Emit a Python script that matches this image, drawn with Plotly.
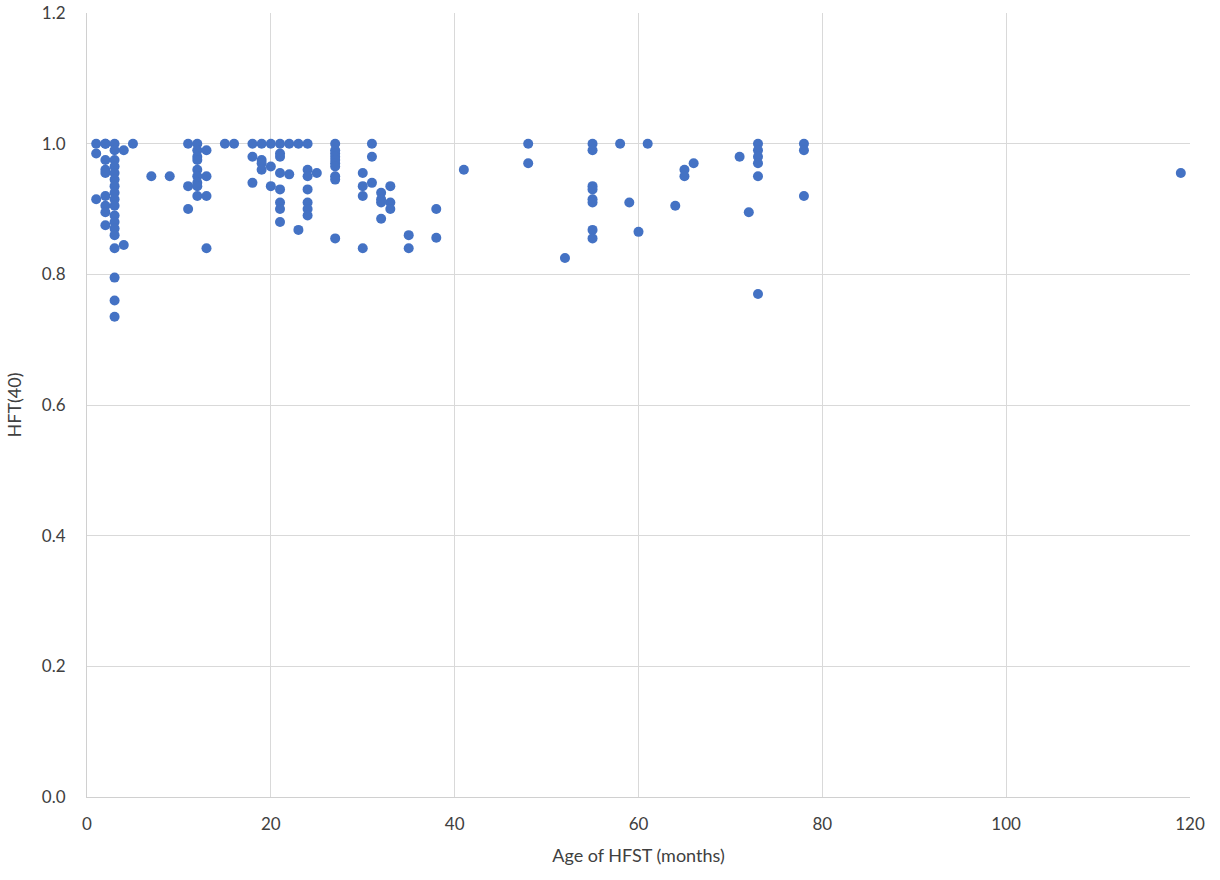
import plotly.graph_objects as go

age_months = (
    [1]*3 + [2]*9 + [3]*18 + [4]*2 + [5] + [7] + [9] + [11]*3 + [12]*9 + [13]*4 +
    [15] + [16] + [18]*3 + [19]*4 + [20]*3 + [21]*8 + [22]*2 + [23]*2 + [24]*7 +
    [25] + [27]*10 + [30]*4 + [31]*3 + [32]*4 + [33]*3 + [35]*2 + [38]*2 + [41] +
    [48]*2 + [52] + [55]*8 + [58] + [59] + [60] + [61] + [64] + [65]*2 + [66] +
    [71] + [72] + [73]*6 + [78]*3 + [119]
)
hft40 = (
    [1.0, 0.985, 0.915] +
    [1.0, 1.0, 0.975, 0.96, 0.955, 0.92, 0.905, 0.895, 0.875] +
    [1.0, 0.99, 0.975, 0.965, 0.955, 0.945, 0.935, 0.925, 0.915, 0.905, 0.89, 0.88,
     0.87, 0.86, 0.84, 0.795, 0.76, 0.735] +
    [0.99, 0.845] + [1.0] + [0.95] + [0.95] +
    [1.0, 0.935, 0.9] +
    [1.0, 0.99, 0.98, 0.975, 0.96, 0.95, 0.94, 0.935, 0.92] +
    [0.99, 0.95, 0.92, 0.84] +
    [1.0] + [1.0] +
    [1.0, 0.98, 0.94] +
    [1.0, 0.975, 0.97, 0.96] +
    [1.0, 0.965, 0.935] +
    [1.0, 0.985, 0.98, 0.955, 0.93, 0.91, 0.9, 0.88] +
    [1.0, 0.953] +
    [1.0, 0.868] +
    [1.0, 0.96, 0.95, 0.93, 0.91, 0.9, 0.89] +
    [0.955] +
    [1.0, 0.99, 0.985, 0.98, 0.975, 0.97, 0.965, 0.95, 0.945, 0.855] +
    [0.955, 0.935, 0.92, 0.84] +
    [1.0, 0.98, 0.94] +
    [0.925, 0.915, 0.91, 0.885] +
    [0.935, 0.91, 0.9] +
    [0.86, 0.84] +
    [0.9, 0.856] +
    [0.96] +
    [1.0, 0.97] +
    [0.825] +
    [1.0, 0.99, 0.935, 0.93, 0.915, 0.91, 0.868, 0.855] +
    [1.0] + [0.91] + [0.865] + [1.0] + [0.905] +
    [0.96, 0.95] + [0.97] + [0.98] + [0.895] +
    [1.0, 0.99, 0.98, 0.97, 0.95, 0.77] +
    [1.0, 0.99, 0.92] +
    [0.955]
)

x_ticks = [0, 20, 40, 60, 80, 100, 120]
y_ticks = [0.0, 0.2, 0.4, 0.6, 0.8, 1.0, 1.2]

fig = go.Figure()
fig.add_trace(go.Scatter(
    x=age_months, y=hft40, mode="markers",
    marker=dict(color="#4472C4", size=10, line=dict(width=0)),
    showlegend=False,
))

FONT = "Lato, Open Sans, sans-serif"
tick_font = dict(family=FONT, size=17, color="#404040")
title_font = dict(family=FONT, size=18, color="#404040")

fig.update_layout(
    width=1220, height=880,
    margin=dict(l=87, r=30, t=13, b=83),
    paper_bgcolor="white", plot_bgcolor="white",
    font=tick_font,
    xaxis=dict(
        range=[0, 120], tickvals=x_ticks, ticktext=[str(v) for v in x_ticks],
        showgrid=True, gridcolor="#d9d9d9", gridwidth=1,
        zeroline=False, showline=True, linecolor="#d0d0d0", linewidth=1,
        ticks="", ticklabelstandoff=12, automargin=False,
        title=dict(text="Age of HFST (months)", font=title_font),
        tickfont=tick_font,
    ),
    yaxis=dict(
        range=[0, 1.2], tickvals=y_ticks, ticktext=[f"{v:.1f}" for v in y_ticks],
        showgrid=True, gridcolor="#d9d9d9", gridwidth=1,
        zeroline=False, showline=True, linecolor="#d0d0d0", linewidth=1,
        ticks="", ticklabelstandoff=17, automargin=False,
        title=dict(text="HFT(40)", font=title_font),
        tickfont=tick_font,
    ),
)

fig.write_html("out.html")
